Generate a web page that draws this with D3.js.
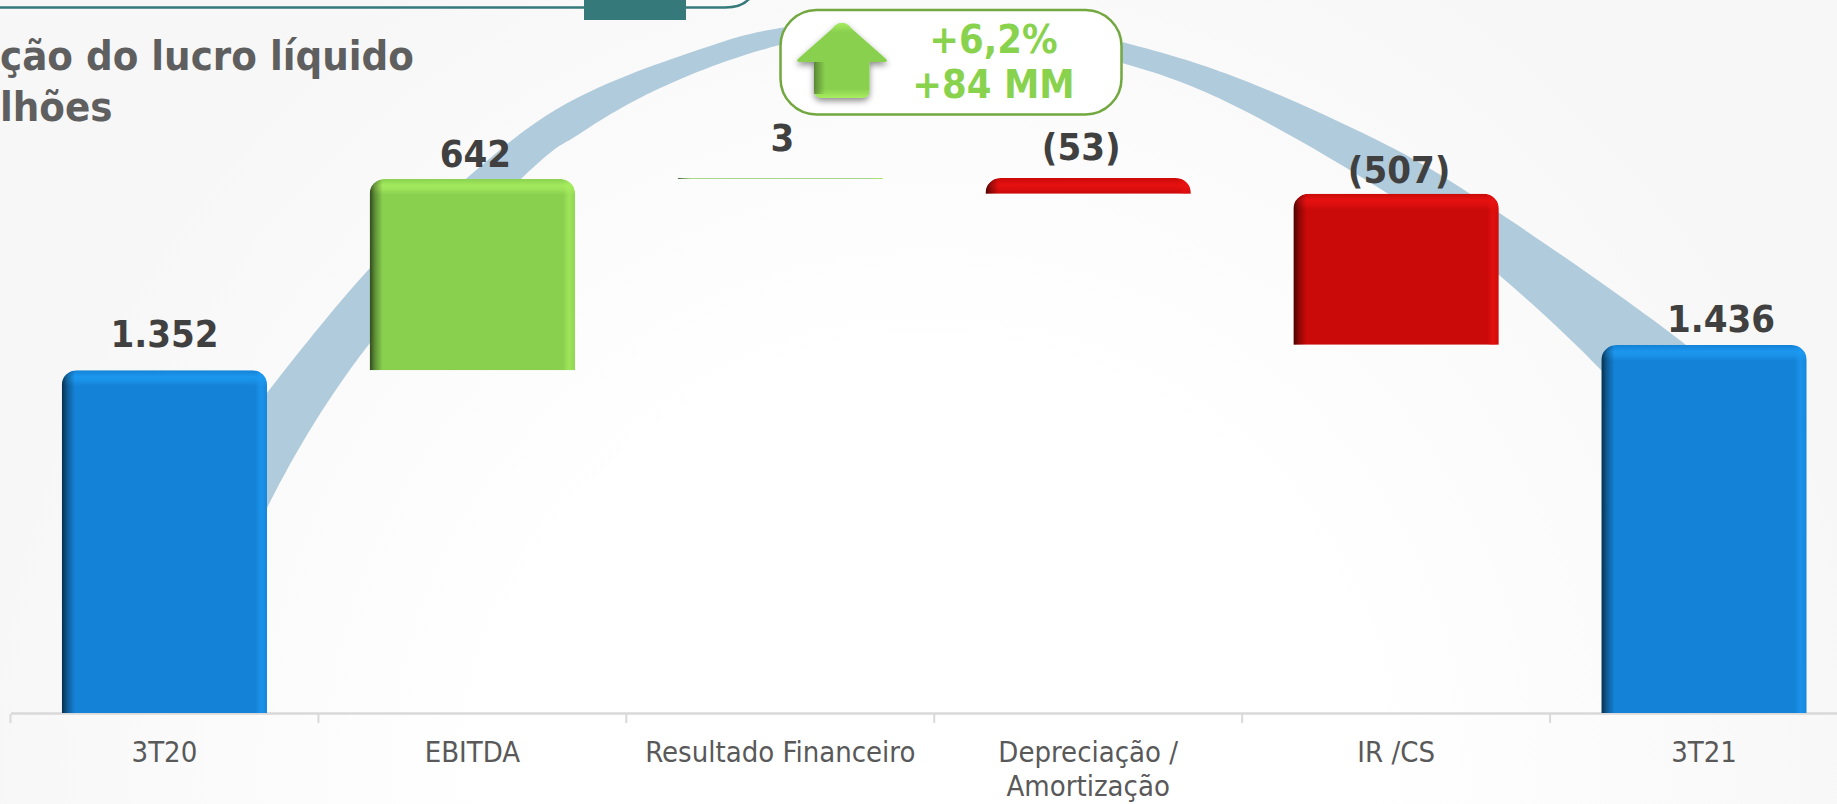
<!DOCTYPE html>
<html>
<head>
<meta charset="utf-8">
<script src="https://d3js.org/d3.v7.min.js"></script>
<style>
  html, body { margin: 0; padding: 0; background: #fff; overflow: hidden; }
  text { font-family: "DejaVu Sans Condensed", "DejaVu Sans", sans-serif; font-stretch: condensed; }
</style>
</head>
<body>
<script>
const categories = ['3T20', 'EBITDA', 'Resultado Financeiro', 'Depreciação / Amortização', 'IR /CS', '3T21']
const values = [1352, 642, 3, -53, -507, 1436]
const isTotal = [true, false, false, false, false, true]
const valueLabels = ['1.352', '642', '3', '(53)', '(507)', '1.436']
const titleLines = ['ção do lucro líquido', 'lhões']
const calloutLines = ['+6,2%', '+84 MM']

const width = 1837
const height = 804

// the band behind the bars, outer edge and inner edge
const arcBand = [
  [225, 447, 225, 600],
  [267, 393, 267, 508],
  [370, 268, 370, 343],
  [467, 178, 522, 178],
  [573, 100, 573, 138],
  [707, 47, 640, 98],
  [780, 28, 780, 45],
  [950, 13, 950, 30],
  [1122, 42, 1122, 63],
  [1243, 80, 1243, 110],
  [1377, 140, 1387, 193],
  [1498, 212, 1499, 275],
  [1686, 345, 1601, 370],
  [1760, 420, 1660, 440],
]

// how far each value label sits above its bar, and sideways from its centre
const labelLift = [23, 12, 27, 18, 11, 13]
const labelShift = [0, 3, 2, -7, 3, 17]

var svg = d3.select('body').append('svg')
  .attr('width', width)
  .attr('height', height)
  .style('display', 'block')

var defs = svg.append('defs')

var bg = defs.append('radialGradient')
  .attr('id', 'bg')
  .attr('gradientUnits', 'userSpaceOnUse')
  .attr('cx', 930).attr('cy', 790).attr('r', 960)
bg.append('stop').attr('offset', '45%').attr('stop-color', '#ffffff')
bg.append('stop').attr('offset', '100%').attr('stop-color', '#f7f7f7')

function gradient(id, x2, y2, stops) {
  var g = defs.append('linearGradient')
    .attr('id', id)
    .attr('x1', 0).attr('y1', 0)
    .attr('x2', x2).attr('y2', y2)
  stops.forEach(s => g.append('stop')
    .attr('offset', s[0])
    .attr('stop-color', s[1])
    .attr('stop-opacity', s[2]))
}
var barColor = { total: '#1482d6', up: '#89d04f', down: '#c90a08' }
var edgeColor = { total: '#1d9af2', up: '#a8ee60', down: '#ea1212' }

gradient('bevelLeft', 1, 0, [[0, '#000', 0.65], [0.4, '#000', 0.32], [1, '#000', 0]])
Object.keys(barColor).forEach(k => {
  gradient('top-' + k, 0, 1, [[0, edgeColor[k], 0], [0.4, edgeColor[k], 0.85], [0.6, edgeColor[k], 0.7], [1, edgeColor[k], 0]])
  gradient('right-' + k, 1, 0, [[0, edgeColor[k], 0], [0.5, edgeColor[k], 0.7], [1, edgeColor[k], 0.2]])
})
gradient('arrowTop', 0, 1, [[0, '#a8ee60', 1], [0.12, '#a8ee60', 0], [0.88, '#a8ee60', 0], [1, '#a8ee60', 1]])
gradient('arrowStem', 1, 0, [[0, '#000', 0.35], [0.2, '#000', 0], [1, '#000', 0]])

defs.append('filter')
  .attr('id', 'arrowShadow')
  .attr('x', '-20%').attr('y', '-20%').attr('width', '140%').attr('height', '150%')
  .append('feDropShadow')
  .attr('dx', 0).attr('dy', 3).attr('stdDeviation', 3)
  .attr('flood-color', '#000').attr('flood-opacity', 0.45)

svg.append('rect')
  .attr('width', width)
  .attr('height', height)
  .attr('fill', 'url(#bg)')

var x = d3.scaleBand()
  .domain(categories)
  .range([10.5, 1858])
  .paddingInner(1 / 3)
  .paddingOuter(1 / 6)

// the original axis does not start at zero
var y = d3.scaleLinear()
  .domain([201, 1997])
  .range([713, 178])

// running totals for the waterfall
var running = 0
var bars = categories.map((c, i) => {
  var from = isTotal[i] ? y.domain()[0] : running
  var to = isTotal[i] ? values[i] : running + values[i]
  running = to
  return {
    category: c,
    i: i,
    top: Math.max(from, to),
    bottom: Math.min(from, to),
    kind: isTotal[i] ? 'total' : values[i] >= 0 ? 'up' : 'down',
  }
})

// header pieces cut off by the slide edge
svg.append('path')
  .attr('d', 'M0,7.5 H725 Q742,7.5 750,-2')
  .attr('fill', 'none')
  .attr('stroke', '#35797a')
  .attr('stroke-width', 2.5)
svg.append('rect')
  .attr('x', 584).attr('y', 0)
  .attr('width', 102).attr('height', 20)
  .attr('fill', '#35797a')

svg.selectAll('.title')
  .data(titleLines)
  .join('text')
  .attr('class', 'title')
  .attr('x', 0)
  .attr('y', (d, i) => 70 + i * 50.5)
  .attr('font-size', 41.5)
  .attr('font-weight', 'bold')
  .attr('fill', '#5f5f5f')
  .text(d => d)

svg.append('path')
  .attr('d', d3.area()
    .x0(d => d[0]).y0(d => d[1])
    .x1(d => d[2]).y1(d => d[3])
    .curve(d3.curveNatural)(arcBand))
  .attr('fill', '#b0cbdb')

// axis
var axis = svg.append('g')
  .attr('transform', 'translate(0,' + y.range()[0] + ')')
  .call(d3.axisBottom(x).tickSize(0).tickPadding(28))

axis.select('.domain')
  .attr('stroke', '#d9d9d9')
  .attr('stroke-width', 2.5)

axis.selectAll('.tick text')
  .attr('font-size', 29)
  .attr('fill', '#595959')
  .style('font-family', null)
  .each(function (d) {
    var parts = d.includes(' / ') ? [d.split(' / ')[0] + ' /', d.split(' / ')[1]] : [d]
    var t = d3.select(this).text(null)
    parts.forEach((p, i) => t.append('tspan')
      .attr('x', 0)
      .attr('dy', i ? 34.5 : '0.71em')
      .text(p))
  })

axis.selectAll('.sep')
  .data(d3.range(categories.length))
  .join('line')
  .attr('class', 'sep')
  .attr('x1', i => x.range()[0] + i * x.step())
  .attr('x2', i => x.range()[0] + i * x.step())
  .attr('y1', 1)
  .attr('y2', 10)
  .attr('stroke', '#d9d9d9')
  .attr('stroke-width', 2)

// bars, rounded on top with a bevel
function barPath(d) {
  var x0 = x(d.category)
  var x1 = x0 + x.bandwidth()
  var t = y(d.top)
  var b = y(d.bottom)
  var r = Math.min(15, b - t)
  var p = d3.path()
  p.moveTo(x0, b)
  p.lineTo(x0, t + r)
  p.arcTo(x0, t, x0 + r, t, r)
  p.lineTo(x1 - r, t)
  p.arcTo(x1, t, x1, t + r, r)
  p.lineTo(x1, b)
  p.closePath()
  return p.toString()
}

defs.selectAll('.barClip')
  .data(bars)
  .join('clipPath')
  .attr('class', 'barClip')
  .attr('id', d => 'clip' + d.i)
  .append('path')
  .attr('d', barPath)

var bar = svg.selectAll('.bar')
  .data(bars)
  .join('g')
  .attr('class', 'bar')
  .attr('clip-path', d => 'url(#clip' + d.i + ')')

bar.append('path')
  .attr('d', barPath)
  .attr('fill', d => d.kind == 'up' && d.top - d.bottom < 10 ? '#a9d78a' : barColor[d.kind])

bar.append('rect')
  .attr('x', d => x(d.category))
  .attr('y', d => y(d.top))
  .attr('width', x.bandwidth())
  .attr('height', 16)
  .attr('fill', d => 'url(#top-' + d.kind + ')')

bar.append('rect')
  .attr('x', d => x(d.category) + x.bandwidth() - 12)
  .attr('y', d => y(d.top))
  .attr('width', 12)
  .attr('height', d => y(d.bottom) - y(d.top))
  .attr('fill', d => 'url(#right-' + d.kind + ')')

bar.append('rect')
  .attr('x', d => x(d.category))
  .attr('y', d => y(d.top))
  .attr('width', 13)
  .attr('height', d => y(d.bottom) - y(d.top))
  .attr('fill', 'url(#bevelLeft)')

svg.selectAll('.valueLabel')
  .data(bars)
  .join('text')
  .attr('class', 'valueLabel')
  .attr('x', d => x(d.category) + x.bandwidth() / 2 + labelShift[d.i])
  .attr('y', d => y(d.top) - labelLift[d.i])
  .attr('text-anchor', 'middle')
  .attr('font-size', 38)
  .attr('font-weight', 'bold')
  .attr('fill', '#404040')
  .text(d => valueLabels[d.i])

// callout
svg.append('rect')
  .attr('x', 780.5).attr('y', 10)
  .attr('width', 341).attr('height', 104.5)
  .attr('rx', 36)
  .attr('fill', '#fff')
  .attr('stroke', '#72a83f')
  .attr('stroke-width', 2.5)

var arrowShape = 'M842,23 Q847,23 851,28 L885,58 Q889,61 885,62 L869.5,62 L869.5,90 Q869.5,98 861,98 L823,98 Q814,98 814,90 L814,62 L799,62 Q795,61 799,58 L833,28 Q837,23 842,23 Z'
svg.append('path')
  .attr('d', arrowShape)
  .attr('fill', '#89d04f')
  .attr('filter', 'url(#arrowShadow)')
svg.append('path')
  .attr('d', arrowShape)
  .attr('fill', 'url(#arrowTop)')
svg.append('rect')
  .attr('x', 814).attr('y', 62)
  .attr('width', 55.5).attr('height', 32)
  .attr('fill', 'url(#arrowStem)')

svg.selectAll('.calloutText')
  .data(calloutLines)
  .join('text')
  .attr('class', 'calloutText')
  .attr('x', 993.5)
  .attr('y', (d, i) => 53 + i * 45)
  .attr('text-anchor', 'middle')
  .attr('font-size', 39.5)
  .attr('font-weight', 'bold')
  .attr('fill', '#89d24e')
  .text(d => d)
</script>
</body>
</html>
